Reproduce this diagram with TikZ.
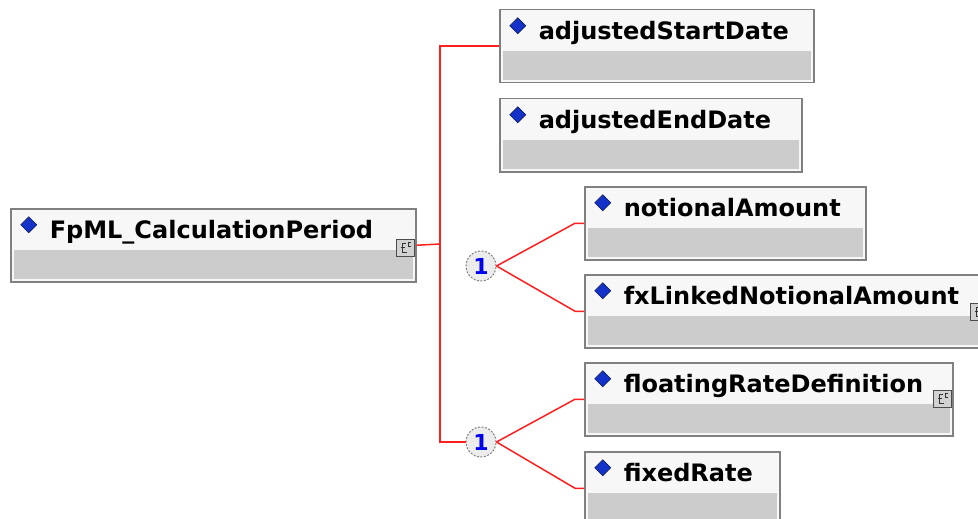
\documentclass[tikz,border=0pt]{standalone}
\usepackage{fontspec}
\setmainfont{DejaVu Sans}
\usepackage{tikz}
\usetikzlibrary{positioning}

\definecolor{boxline}{RGB}{128,128,128}
\definecolor{boxtop}{RGB}{247,247,247}
\definecolor{boxbot}{RGB}{204,204,204}
\definecolor{linkred}{RGB}{255,30,30}
\definecolor{diablue}{RGB}{20,50,200}
\definecolor{numblue}{RGB}{0,0,235}

\tikzset{
  cplx/.pic={
    \draw[draw=gray!60!black, fill=gray!35, line width=1pt] (0,0) rectangle (18,17);
    \draw[line width=1pt, black!80] (9,4) -- (6,4) -- (6,13) -- (10,13);
    \draw[line width=1pt, black!80] (4,8) -- (8,8);
    \draw[line width=.8pt, black!80] (14,3.5) -- (11.5,3.5) -- (11.5,7) -- (14,7);
  }
}

\begin{document}
\begin{tikzpicture}[x=1pt, y=-1pt,
  elem/.style={draw=boxline, line width=1.5pt, fill=boxtop, anchor=north west,
    inner xsep=39pt, inner ysep=4pt, text height=26pt, text depth=39pt,
    align=left, font=\fontsize{24pt}{28pt}\selectfont\bfseries,
    path picture={
      \fill[boxbot] ([shift={(3,41)}]path picture bounding box.north west)
        rectangle ([shift={(-3,-3)}]path picture bounding box.south east);
      \filldraw[fill=diablue, draw=diablue!40!black, line width=.6pt]
        ([shift={(18,8)}]path picture bounding box.north west)
        -- ++(8,8) -- ++(-8,8) -- ++(-8,-8) -- cycle;
    }},
  link/.style={draw=linkred, line width=1.5pt},
  choice/.style={circle, draw=gray, dash pattern=on 2pt off 1.5pt, line width=1pt,
    fill=gray!15, minimum size=30pt, inner sep=0pt, text=numblue,
    font=\fontsize{22pt}{22pt}\selectfont\bfseries}
]
\clip (0,0) rectangle (978,519);

% element boxes
\node[elem, text width=327pt] (root) at (10,208) {FpML\_CalculationPeriod};
\node[elem, text width=236pt] (start) at (499,9) {adjustedStartDate};
\node[elem, text width=224pt] (end) at (499,98) {adjustedEndDate};
\node[elem, text width=203pt] (notional) at (584,186) {notionalAmount};
\node[elem, text width=327pt] (fxlinked) at (584,274) {fxLinkedNotionalAmount};
\node[elem, text width=290pt] (floating) at (584,362) {floatingRateDefinition};
\node[elem, text width=117pt] (fixed) at (584,451) {fixedRate};

\pic at ([shift={(-20,31)}]root.north east) {cplx};
\pic at ([shift={(-20,29)}]fxlinked.north east) {cplx};
\pic at ([shift={(-20,28)}]floating.north east) {cplx};

% choice compositors
\node[choice] (ch1) at (481,266) {1};
\node[choice] (ch2) at (481,442) {1};

% connectors
\coordinate (bus) at (440,244);
\draw[link] (root.east) -- (bus);
\draw[link] (start.west) -| (bus);
\draw[link] (ch2.west) -| (bus);
\draw[link] (ch1.east) -- ([xshift=-9pt]notional.west) -- (notional.west);
\draw[link] (ch1.east) -- ([xshift=-9pt]fxlinked.west) -- (fxlinked.west);
\draw[link] (ch2.east) -- ([xshift=-9pt]floating.west) -- (floating.west);
\draw[link] (ch2.east) -- ([xshift=-9pt]fixed.west) -- (fixed.west);
\end{tikzpicture}
\end{document}
